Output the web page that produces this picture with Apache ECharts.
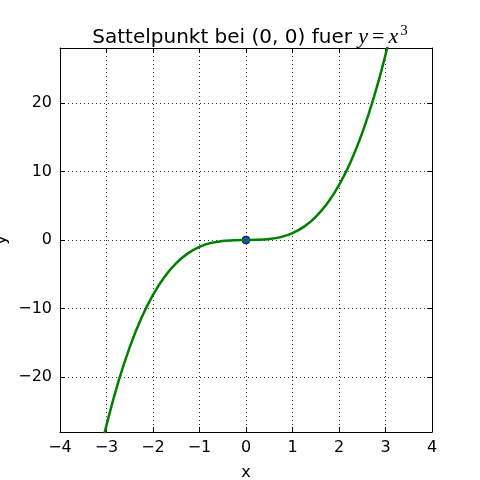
<!DOCTYPE html>
<html>
<head>
<meta charset="utf-8">
<script src="https://cdn.jsdelivr.net/npm/echarts@6/dist/echarts.min.js"></script>
<style>html,body{margin:0;padding:0;background:#fff}#c{width:480px;height:480px}</style>
</head>
<body>
<div id="c"></div>
<script>
var xValues = [-3.25,-3,-2.75,-2.5,-2.25,-2,-1.75,-1.5,-1.25,-1,-0.75,-0.5,-0.25,0,0.25,0.5,0.75,1,1.25,1.5,1.75,2,2.25,2.5,2.75,3,3.25];
var yValues = [-34.33,-27,-20.8,-15.63,-11.39,-8,-5.36,-3.38,-1.95,-1,-0.42,-0.13,-0.02,0,0.02,0.13,0.42,1,1.95,3.38,5.36,8,11.39,15.63,20.8,27,34.33];
var saddlePoint = [[0, 0]];
var xTicks = [-4,-3,-2,-1,0,1,2,3,4];
var yTicks = [-20,-10,0,10,20];

var curve = xValues.map(function(x, i){ return [x, yValues[i]]; });
function fmt(v){ return String(v).replace('-', '\u2212'); }
var FONT = 'DejaVu Sans';

var baseX = {
  type: 'value', min: -4, max: 4, interval: 1,
  axisLine: {show: true, onZero: false, lineStyle: {color: '#000', width: 1}},
  axisTick: {show: true, inside: true, length: 5, lineStyle: {color: '#000'}},
  splitLine: {show: false}
};
var baseY = {
  type: 'value', min: -28, max: 28, interval: 10,
  axisLine: {show: true, onZero: false, lineStyle: {color: '#000', width: 1}},
  axisTick: {show: true, inside: true, length: 5, lineStyle: {color: '#000'}},
  splitLine: {show: false}
};

var chart = echarts.init(document.getElementById('c'), null, {renderer: 'canvas'});
chart.setOption({
  animation: false,
  backgroundColor: '#fff',
  title: {
    left: 245, textAlign: 'center', top: 19,
    text: 'Sattelpunkt bei (0, 0) fuer {m|y}{e|=}{m|x}{s|3}',
    textStyle: {
      fontFamily: FONT, fontSize: 20, fontWeight: 'normal', color: '#000',
      rich: {
        m: {fontFamily: 'Liberation Serif', fontStyle: 'italic', fontSize: 22, color: '#000'},
        e: {fontFamily: 'Liberation Serif', fontSize: 22, color: '#000', padding: [0, 4, 0, 4]},
        s: {fontFamily: 'Liberation Serif', fontSize: 15, color: '#000', verticalAlign: 'top', padding: [0,0,12,2]}
      }
    }
  },
  grid: {left: 60, right: 48, top: 48, bottom: 48, show: false, containLabel: false, outerBoundsMode: 'none'},
  xAxis: [
    Object.assign({}, baseX, {
      position: 'bottom', name: 'x', nameLocation: 'middle', nameGap: 33, nameMoveOverlap: false,
      nameTextStyle: {fontFamily: FONT, fontSize: 16, color: '#000'},
      axisLabel: {fontFamily: FONT, fontSize: 16, color: '#000', margin: 8, formatter: fmt},
      splitLine: {show: true, lineStyle: {color: '#000', width: 1, type: [1, 3], opacity: 0.8}}
    }),
    Object.assign({}, baseX, {position: 'top', axisLabel: {show: false}})
  ],
  yAxis: [
    Object.assign({}, baseY, {
      position: 'left', name: 'y', nameLocation: 'middle', nameGap: 50, nameMoveOverlap: false,
      nameTextStyle: {fontFamily: FONT, fontSize: 16, color: '#000'},
      axisLabel: {fontFamily: FONT, fontSize: 16, color: '#000', margin: 8, formatter: fmt,
        customValues: yTicks},
      axisTick: {show: true, inside: true, length: 5, lineStyle: {color: '#000'}, customValues: yTicks},
      splitLine: {show: true, lineStyle: {color: '#000', width: 1, type: [1, 3], opacity: 0.8}}
    }),
    Object.assign({}, baseY, {position: 'right', axisLabel: {show: false},
      axisTick: {show: true, inside: true, length: 5, lineStyle: {color: '#000'}, customValues: yTicks}})
  ],
  series: [
    {
      type: 'line', data: curve, xAxisIndex: 0, yAxisIndex: 0,
      showSymbol: false, smooth: 0.3, clip: true,
      lineStyle: {color: '#008000', width: 2.5}
    },
    {
      type: 'scatter', data: saddlePoint, symbol: 'circle', symbolSize: 8,
      itemStyle: {color: '#0000ff', borderColor: '#000', borderWidth: 0.8}
    }
  ]
});
</script>
</body>
</html>
